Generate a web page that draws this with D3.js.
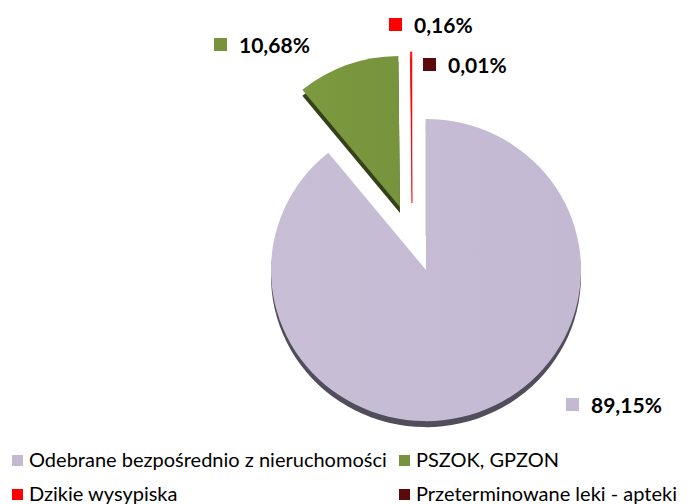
<!DOCTYPE html>
<html><head><meta charset="utf-8">
<script src="https://cdn.jsdelivr.net/npm/d3@7"></script>
<style>html,body{margin:0;padding:0;background:#fff;} svg{display:block;}</style>
</head><body>
<svg id="c" width="688" height="504"></svg>
<script>
const categories = ["Odebrane bezpośrednio z nieruchomości", "PSZOK, GPZON", "Dzikie wysypiska", "Przeterminowane leki - apteki"];
const values = [89.15, 10.68, 0.16, 0.01];
const valueLabels = ["89,15%", "10,68%", "0,16%", "0,01%"];
const colors = ["#c3b9d2", "#77933c", "#ff0000", "#5a0a0a"];
const gradTop = ["#c8bfd7", "#7c9a40", "#ff2020", "#600c0c"];
const shadowColors = ["#524d5a", "#34421a", "#8a0000", "#300000"];

const svg = d3.select("#c");
const W = 688, H = 504;
const cx = 426, cy = 270, R = 155, ySc = 0.975;
const offsets = [[0,0],[-26,-63],[-14,-67],[0,0]];
const labelPos = [[566,398],[214,38],[389,18],[423,58]];

const defs = svg.append("defs");
colors.forEach((c,i)=>{
  const g = defs.append("linearGradient").attr("id","g"+i).attr("x1","0").attr("y1","0").attr("x2","1").attr("y2","0");
  g.append("stop").attr("offset","0").attr("stop-color",gradTop[i]);
  g.append("stop").attr("offset","1").attr("stop-color",c);
});

const pie = d3.pie().sort(null).value(d=>d).startAngle(0).endAngle(2*Math.PI);
const arcs = pie(values);
const arc = d3.arc().innerRadius(0).outerRadius(R);

const gPie = svg.append("g");
// shadows (depth)
arcs.forEach((a,i)=>{
  gPie.append("path")
    .attr("transform",`translate(${cx+offsets[i][0]},${cy+offsets[i][1]+6}) scale(1,${ySc})`)
    .attr("d",arc(a)).attr("fill",shadowColors[i]);
});
arcs.forEach((a,i)=>{
  gPie.append("path")
    .attr("transform",`translate(${cx+offsets[i][0]},${cy+offsets[i][1]}) scale(1,${ySc})`)
    .attr("d",arc(a)).attr("fill",`url(#g${i})`)
    .attr("stroke", i===2 ? colors[i] : "none").attr("stroke-width", i===2?0.6:0);
});

// data labels
const fontFam = "Lato, 'Open Sans', sans-serif";
valueLabels.forEach((t,i)=>{
  const [x,y] = labelPos[i];
  svg.append("rect").attr("x",x).attr("y",y).attr("width",13).attr("height",13).attr("fill",colors[i]);
  svg.append("text").attr("x",x+25).attr("y",y+15)
    .attr("font-family",fontFam).attr("font-weight","bold").attr("font-size",21)
    .attr("fill","#000").text(t);
});

// legend
const legPos = [[12,455],[399,455],[12,489],[399,489]];
categories.forEach((t,i)=>{
  const [x,y] = legPos[i];
  svg.append("rect").attr("x",x).attr("y",y).attr("width",11).attr("height",11).attr("fill",colors[i]);
  svg.append("text").attr("x",x+17).attr("y",y+12)
    .attr("font-family",fontFam).attr("font-size",20).attr("fill","#000").text(t);
});
</script>
</body></html>
